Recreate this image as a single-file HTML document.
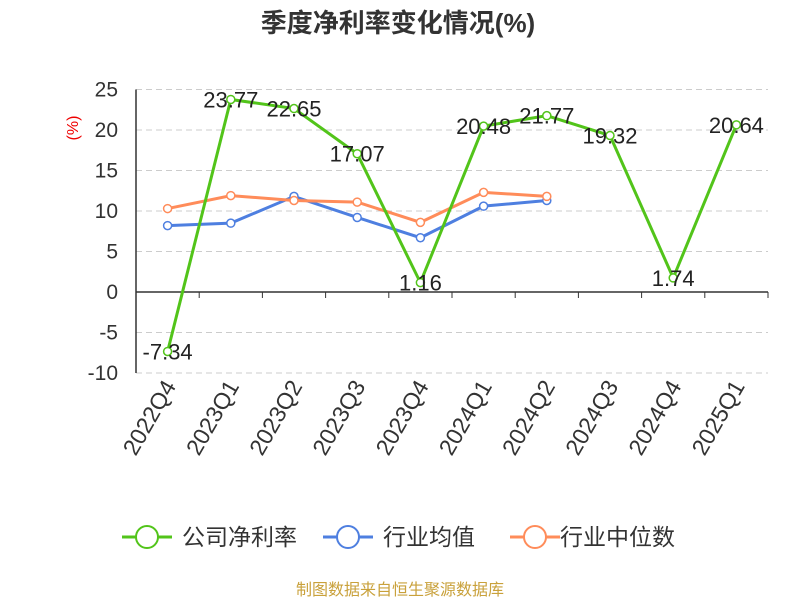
<!DOCTYPE html>
<html><head><meta charset="utf-8"><style>
body{margin:0;background:#fff;font-family:"Liberation Sans","Noto Sans CJK SC",sans-serif;}
svg text{font-family:"Liberation Sans","Noto Sans CJK SC",sans-serif;}
</style></head><body>
<svg id="chart" width="800" height="600">
<text x="398" y="32" text-anchor="middle" font-size="26" font-weight="bold" fill="#333">季度净利率变化情况(%)</text>
<text x="78" y="128" font-size="16" fill="#e00" transform="rotate(-90 78 128)" text-anchor="middle">(%)</text>
<g id="grid"></g><g id="axes"></g><g id="series"></g>
<g>
<g><line x1="122" y1="537" x2="172" y2="537" stroke="#52c41a" stroke-width="3"/><circle cx="147" cy="537" r="11" fill="#fff" stroke="#52c41a" stroke-width="2"/><text x="182" y="545" font-size="23" fill="#333">公司净利率</text></g>
<g><line x1="323" y1="537" x2="373" y2="537" stroke="#4e7fe0" stroke-width="3"/><circle cx="348" cy="537" r="11" fill="#fff" stroke="#4e7fe0" stroke-width="2"/><text x="383" y="545" font-size="23" fill="#333">行业均值</text></g>
<g><line x1="510" y1="537" x2="560" y2="537" stroke="#ff8c5a" stroke-width="3"/><circle cx="535" cy="537" r="11" fill="#fff" stroke="#ff8c5a" stroke-width="2"/><text x="560" y="545" font-size="23" fill="#333">行业中位数</text></g>
</g>
<text x="400" y="595" text-anchor="middle" font-size="16" fill="#c9a13b">制图数据来自恒生聚源数据库</text>
</svg>
<script>
const categories=["2022Q4","2023Q1","2023Q2","2023Q3","2023Q4","2024Q1","2024Q2","2024Q3","2024Q4","2025Q1"];
const company=[-7.34,23.77,22.65,17.07,1.16,20.48,21.77,19.32,1.74,20.64];
const industryAvg=[8.2,8.5,11.8,9.2,6.7,10.6,11.3];
const industryMedian=[10.3,11.9,11.3,11.1,8.6,12.3,11.8];
const yTicks=[25,20,15,10,5,0,-5,-10];
const NS="http://www.w3.org/2000/svg";
const x0=136,x1=768,bw=(x1-x0)/categories.length;
const X=i=>x0+bw*(i+0.5);
const Y=v=>292-v*8.1;
function mk(tag,attrs,parent){const e=document.createElementNS(NS,tag);for(const k in attrs)e.setAttribute(k,attrs[k]);parent.appendChild(e);return e;}
const grid=document.getElementById('grid'),axes=document.getElementById('axes'),ser=document.getElementById('series');
yTicks.forEach(t=>{
 if(t!==0){const l=mk('line',{x1:x0,x2:x1,y1:Y(t),y2:Y(t),stroke:'#ccc','stroke-dasharray':'6,4'},grid);
 
 }
 const tx=mk('text',{x:x0-18,y:Y(t)+7,'text-anchor':'end','font-size':21,fill:'#333'},axes);tx.textContent=t;
 
 
});
const ax=mk('line',{x1:x0,x2:x1,y1:Y(0),y2:Y(0),stroke:'#333','stroke-width':1.5},axes);


const yax=mk('line',{x1:x0,x2:x0,y1:Y(25),y2:Y(-10),stroke:'#333','stroke-width':1.5},axes);


for(let i=0;i<=categories.length;i++){const tk=mk('line',{x1:x0+bw*i,x2:x0+bw*i,y1:Y(0),y2:Y(0)+6,stroke:'#333'},axes);
 
 }
categories.forEach((c,i)=>{const t=mk('text',{x:X(i)+9,y:386,'text-anchor':'end','font-size':23,fill:'#333',transform:`rotate(-60 ${X(i)+9} 386)`},axes);t.textContent=c;
 
 });
function series(data,color,name,labels){
 const g=mk('g',{},ser);
 
 
 const p=mk('polyline',{points:data.map((v,i)=>X(i)+','+Y(v)).join(' '),fill:'none',stroke:color,'stroke-width':3},g);
 
 
 data.forEach((v,i)=>{const c=mk('circle',{cx:X(i),cy:Y(v),r:4,fill:'#fff',stroke:color,'stroke-width':1.5},g);
  
  
  if(labels){const t=mk('text',{x:X(i),y:Y(v)+8,'text-anchor':'middle','font-size':22,fill:'#222'},g);t.textContent=v.toFixed(2);
   
   }
 });
}
series(industryAvg,'#4e7fe0','industry-avg-series',false);
series(industryMedian,'#ff8c5a','industry-median-series',false);
series(company,'#52c41a','company-series',true);
</script>
</body></html>
